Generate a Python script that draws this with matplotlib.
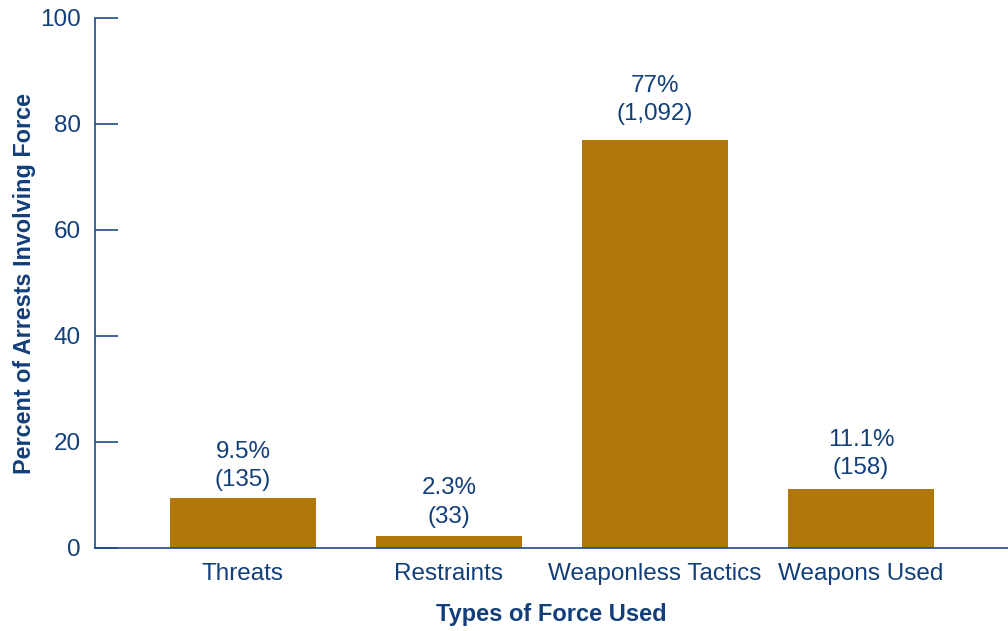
import matplotlib
matplotlib.use("Agg")
import matplotlib.pyplot as plt

categories = ["Threats", "Restraints", "Weaponless Tactics", "Weapons Used"]
percents = [9.5, 2.3, 77, 11.1]
pct_labels = ["9.5%", "2.3%", "77%", "11.1%"]
counts = ["(135)", "(33)", "(1,092)", "(158)"]
yticks = [0, 20, 40, 60, 80, 100]

navy = "#123f7a"
line_c = "#1f4a85"
bar_c = "#b07808"
label_offsets = [4.5, 5.8, 10.5, 7.2]

plt.rcParams['font.family'] = ['Liberation Sans', 'DejaVu Sans']

fig = plt.figure(figsize=(10.08, 6.31), dpi=100)
ax = fig.add_axes([95/1008, 83/631, 913/1008, 530/631])

x = list(range(len(categories)))
bars = ax.bar(x, percents, width=0.71, color=bar_c, zorder=2)
ax.set_xlim(-0.718, 3.714)
ax.set_ylim(0, 100)

for xi, v, p, c, off in zip(x, percents, pct_labels, counts, label_offsets):
    ax.annotate(p + "\n" + c, (xi, v), xytext=(0, off), textcoords="offset points",
                ha="center", va="bottom", fontsize=17.4, color=navy, linespacing=1.38)

ax.set_yticks(yticks)
ax.set_yticklabels([str(t) for t in yticks])
ax.set_xticks(x)
ax.set_xticklabels(categories)

for s in ["top", "right"]:
    ax.spines[s].set_visible(False)
for s in ["left", "bottom"]:
    ax.spines[s].set_color(line_c)
    ax.spines[s].set_linewidth(1.2)

ax.tick_params(axis="y", direction="in", length=16.5, width=1.2, color=line_c,
               labelcolor=navy, labelsize=17.5, pad=10)
ax.tick_params(axis="x", length=0, labelcolor=navy, labelsize=17.5, pad=11)

ax.set_ylabel("Percent of Arrests Involving Force", fontsize=16.8, fontweight="bold",
              color=navy, labelpad=3)
ax.set_xlabel("Types of Force Used", fontsize=17, fontweight="bold", color=navy,
              labelpad=13)

fig.savefig("out.png", dpi=100)
